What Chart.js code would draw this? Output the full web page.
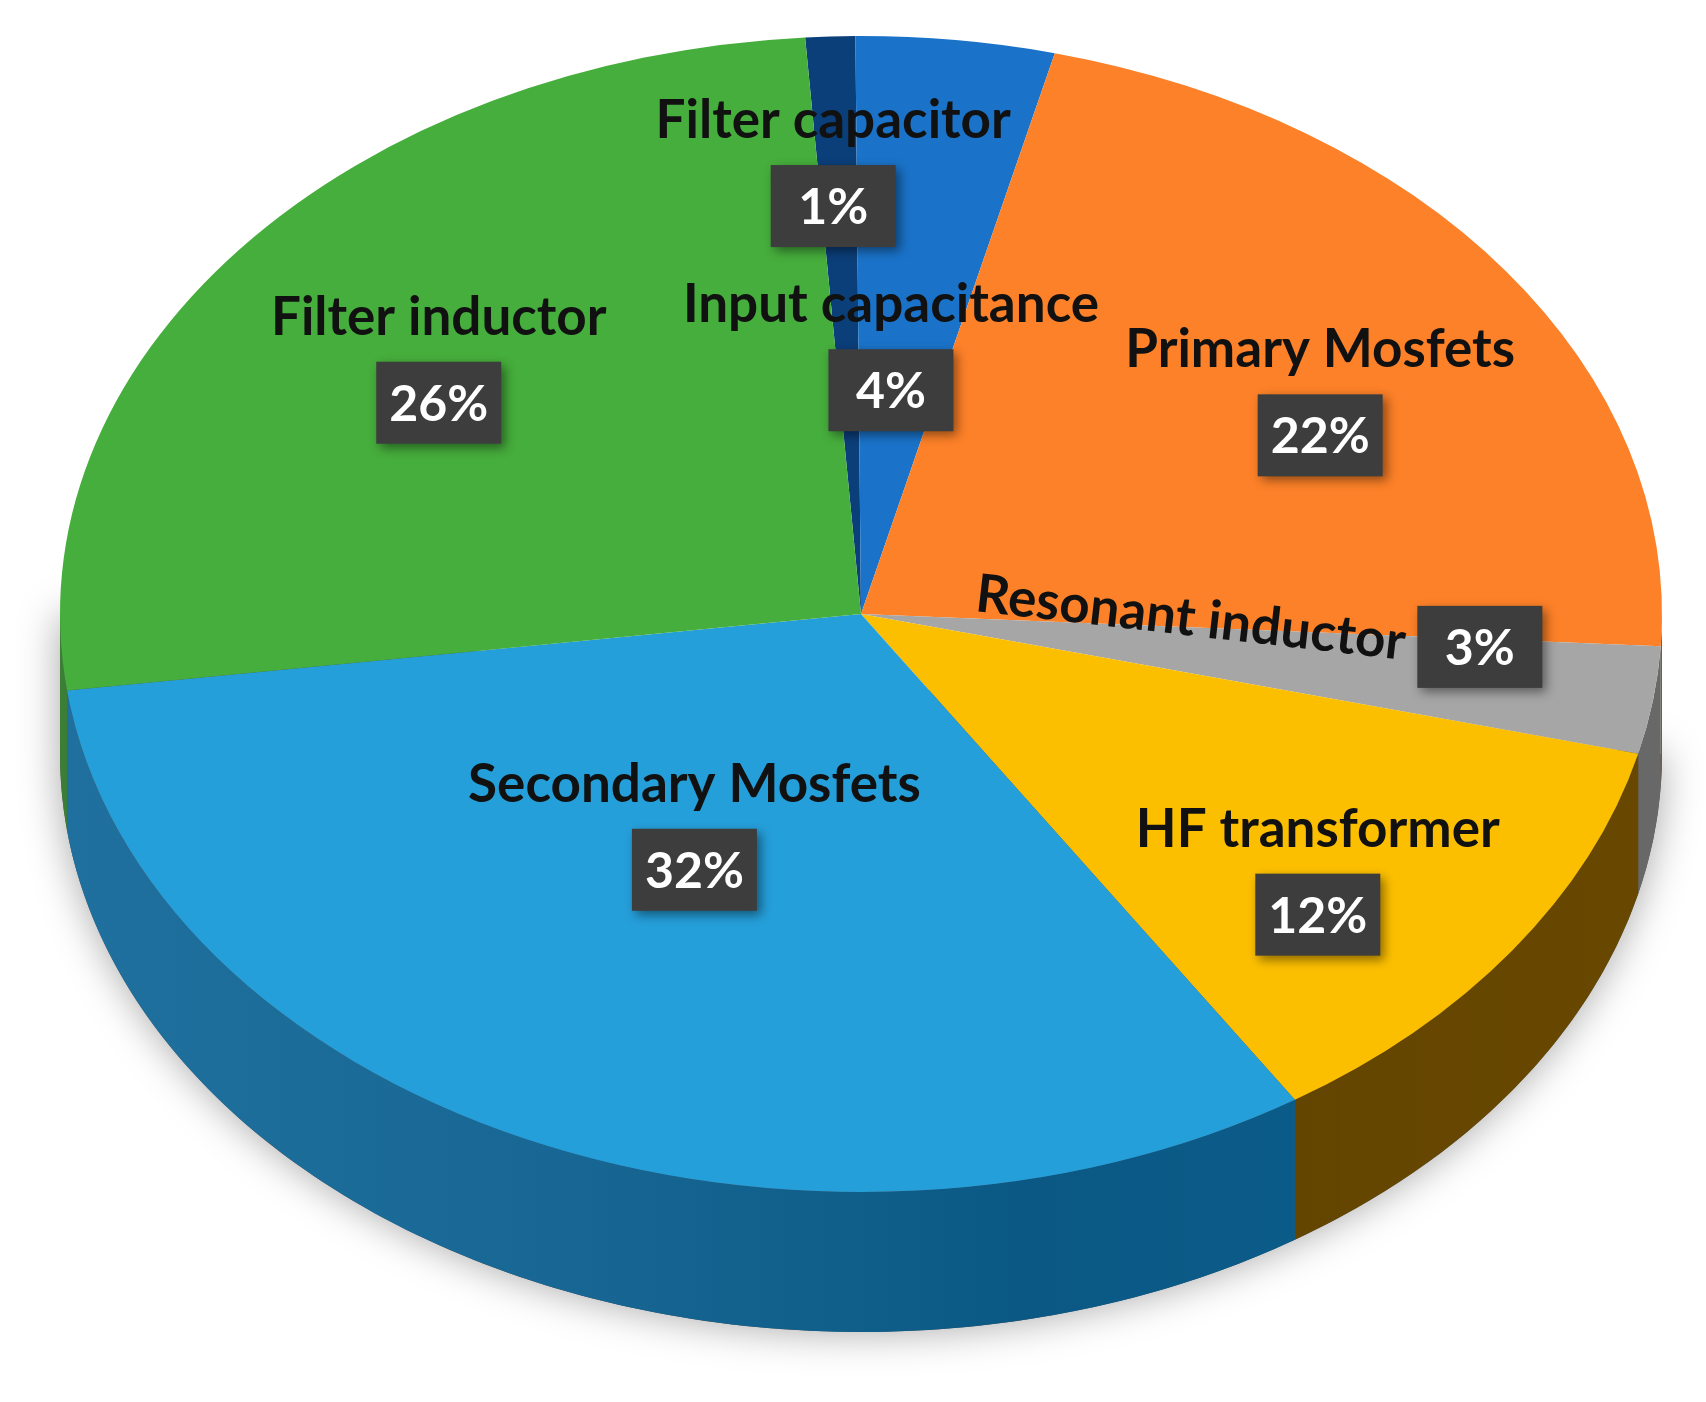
<!DOCTYPE html>
<html>
<head>
<meta charset="utf-8">
<script src="https://cdn.jsdelivr.net/npm/chart.js@4/dist/chart.umd.min.js"></script>
<style>
	body { margin: 0; background: #fff; }
	#pie { display: block; }
</style>
</head>
<body>
<canvas id="pie" width="1706" height="1402"></canvas>
<script>
const labels = ['Filter capacitor', 'Input capacitance', 'Primary Mosfets', 'Resonant inductor', 'HF transformer', 'Secondary Mosfets', 'Filter inductor'];
const shares = [1, 4, 22, 3, 12, 32, 26];
const topColors = ['#0b3f7a', '#1a73c9', '#fd8128', '#a6a6a6', '#fcbf00', '#259fda', '#46ae3c'];
const sideColors = ['#072a52', '#0f4d88', '#a8531a', '#6e6e6e', '#6e4c00', '#0c6496', '#2b7325'];
// label placement: radius fraction and angle nudge (degrees)
const labelRadius = [0.71, 0.37, 0.64, 0.78, 0.83, 0.56, 0.63];
const labelNudge = [-0.6, -1, 10, -0.7, 11, -3, -6];

const view = { cx: 861, cy: 614, rx: 801, ry: 578, depth: 140 };
const labelView = { cx: 861, cy: 589, rx: 801, ry: 540 };

function applyView(ctx, chart) {
	const arc = chart.getDatasetMeta(0).data[0];
	const r0 = arc.outerRadius;
	ctx.translate(view.cx, view.cy);
	ctx.scale(view.rx / r0, view.ry / r0);
	ctx.translate(-arc.x, -arc.y);
}

const pie3d = {
	id: 'pie3d',
	beforeDatasetsDraw(chart) {
		const ctx = chart.ctx;
		const arcs = chart.getDatasetMeta(0).data;
		const r0 = arcs[0].outerRadius;
		const d = view.depth / (view.ry / r0);
		ctx.save();
		applyView(ctx, chart);
		// soft shadow under the disc
		ctx.save();
		ctx.shadowColor = 'rgba(0,0,0,0.35)';
		ctx.shadowBlur = 40;
		ctx.beginPath();
		ctx.ellipse(arcs[0].x, arcs[0].y + d, r0, r0, 0, 0, Math.PI);
		ctx.lineTo(arcs[0].x - r0, arcs[0].y);
		ctx.fillStyle = '#555';
		ctx.fill();
		ctx.restore();
		arcs.forEach((a, i) => {
			let s = a.startAngle % (2 * Math.PI), e = s + (a.endAngle - a.startAngle);
			if (s < 0) { s += 2 * Math.PI; e += 2 * Math.PI; }
			const ranges = [[s, e], [s - 2 * Math.PI, e - 2 * Math.PI]];
			ranges.forEach(([p, q]) => {
				const lo = Math.max(p, 0), hi = Math.min(q, Math.PI);
				if (hi <= lo) return;
				ctx.beginPath();
				ctx.arc(a.x, a.y, r0, lo, hi);
				ctx.arc(a.x, a.y + d, r0, hi, lo, true);
				ctx.closePath();
				ctx.fillStyle = sideColors[i];
				ctx.fill();
				const g = ctx.createLinearGradient(a.x - r0, 0, a.x + r0, 0);
				g.addColorStop(0, 'rgba(255,255,255,0.08)');
				g.addColorStop(0.6, 'rgba(0,0,0,0.12)');
				g.addColorStop(1, 'rgba(0,0,0,0.05)');
				ctx.fillStyle = g;
				ctx.fill();
			});
		});
		ctx.restore();
		ctx.save();
		applyView(ctx, chart);
	},
	afterDatasetsDraw(chart) {
		chart.ctx.restore();
	},
	afterDraw(chart) {
		const ctx = chart.ctx;
		const arcs = chart.getDatasetMeta(0).data;
		arcs.forEach((a, i) => {
			const mid = (a.startAngle + a.endAngle) / 2 + labelNudge[i] * Math.PI / 180;
			const bx = labelView.cx + labelView.rx * labelRadius[i] * Math.cos(mid);
			const by = labelView.cy + labelView.ry * labelRadius[i] * Math.sin(mid);
			const bw = 125, bh = 82;
			ctx.save();
			ctx.shadowColor = 'rgba(0,0,0,0.45)';
			ctx.shadowBlur = 10;
			ctx.shadowOffsetX = 4;
			ctx.shadowOffsetY = 4;
			ctx.fillStyle = '#3d3d3d';
			ctx.fillRect(bx - bw / 2, by - bh / 2, bw, bh);
			ctx.restore();
			ctx.fillStyle = '#fff';
			ctx.font = 'bold 50px Lato';
			ctx.textAlign = 'center';
			ctx.textBaseline = 'middle';
			ctx.fillText(shares[i] + '%', bx, by + 2);
			ctx.fillStyle = '#111';
			ctx.font = 'bold 53px Lato';
			if (labels[i] === 'Resonant inductor') {
				ctx.save();
				ctx.translate(bx - bw / 2 - 12, by - 4);
				ctx.rotate(6.5 * Math.PI / 180);
				ctx.textAlign = 'right';
				ctx.fillText(labels[i], 0, 0);
				ctx.restore();
			} else {
				ctx.fillText(labels[i], bx, by - 85);
			}
		});
	}
};

new Chart(document.getElementById('pie'), {
	type: 'pie',
	data: {
		labels: labels,
		datasets: [{
			data: shares,
			backgroundColor: topColors,
			borderWidth: 0,
		}],
	},
	options: {
		responsive: false,
		animation: false,
		rotation: -4,
		plugins: {
			legend: { display: false },
			tooltip: { enabled: false },
		},
	},
	plugins: [pie3d],
});
</script>
</body>
</html>
